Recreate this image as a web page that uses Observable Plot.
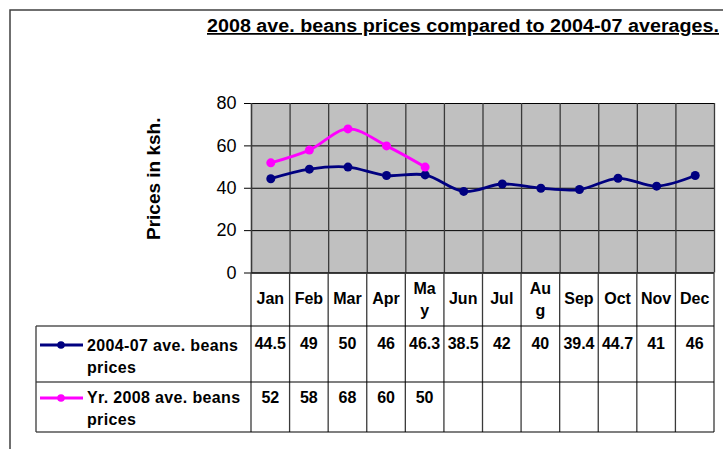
<!DOCTYPE html>
<html>
<head>
<meta charset="utf-8">
<script src="https://cdn.jsdelivr.net/npm/d3@7"></script>
<script src="https://cdn.jsdelivr.net/npm/@observablehq/plot@0.6"></script>
<style>
  html, body { margin: 0; padding: 0; background: #fff; }
  svg { display: block; }
</style>
</head>
<body>
<div id="chart"></div>
<script>
// ---- data ----
const months = ["Jan","Feb","Mar","Apr","May","Jun","Jul","Aug","Sep","Oct","Nov","Dec"];
const headerLabels = [["Jan"],["Feb"],["Mar"],["Apr"],["Ma","y"],["Jun"],["Jul"],["Au","g"],["Sep"],["Oct"],["Nov"],["Dec"]];
const avg0407 = [44.5, 49, 50, 46, 46.3, 38.5, 42, 40, 39.4, 44.7, 41, 46];
const yr2008 = [52, 58, 68, 60, 50];
const seriesNames = [["2004-07 ave. beans", "prices"], ["Yr. 2008 ave. beans", "prices"]];
const seriesColors = ["#000080", "#FF00FF"];
const yTicks = [0, 20, 40, 60, 80];
const titleText = "2008 ave. beans prices compared to 2004-07 averages.";
const yLabelText = "Prices in ksh.";

// ---- build tables ----
const rows1 = avg0407.map((v, i) => ({x: i + 0.5, y: v, month: months[i]}));
const rows2 = yr2008.map((v, i) => ({x: i + 0.5, y: v, month: months[i]}));
const boundaries = d3.range(months.length + 1);

const FONT = "'Liberation Sans', Arial, Helvetica, sans-serif";

const plot = Plot.plot({
  width: 723,
  height: 449,
  marginLeft: 251,
  marginRight: 9,
  marginTop: 103,
  marginBottom: 176.5,
  style: {fontFamily: FONT, fontSize: "18px", background: "white", overflow: "visible"},
  x: {domain: [0, months.length], axis: null},
  y: {domain: [0, 80], ticks: yTicks, tickSize: 7, tickPadding: 8, label: null, tickFormat: d => d},
  marks: [
    Plot.frame({fill: "#C0C0C0", stroke: null}),
    Plot.ruleY(yTicks.filter(d => d > 0), {stroke: "#000", strokeWidth: 1}),
    Plot.ruleX(boundaries.slice(1), {stroke: "#3a3a3a", strokeWidth: 1.3}),
    Plot.ruleX([0], {stroke: "#3a3a3a", strokeWidth: 1.6}),
    Plot.ruleY([0], {stroke: "#000", strokeWidth: 1.3}),
    Plot.line(rows1, {x: "x", y: "y", stroke: seriesColors[0], strokeWidth: 2.8, curve: "catmull-rom"}),
    Plot.dot(rows1, {x: "x", y: "y", fill: seriesColors[0], r: 4.5}),
    Plot.line(rows2, {x: "x", y: "y", stroke: seriesColors[1], strokeWidth: 2.8, curve: "catmull-rom"}),
    Plot.dot(rows2, {x: "x", y: "y", fill: seriesColors[1], r: 4.5})
  ]
});

document.getElementById("chart").appendChild(plot);

// ---- decorations & data table, positioned with the plot's own scales ----
const svg = d3.select(plot);
const xs = plot.scale("x");
const ys = plot.scale("y");
const X = v => xs.apply(v);
const yBottom = ys.apply(0);
const xRight = X(months.length);

// chart-area border
svg.append("path")
  .attr("d", `M10,449V10H723`)
  .attr("fill", "none").attr("stroke", "#404040").attr("stroke-width", 1.5);

// title
svg.append("text")
  .attr("x", 207).attr("y", 32)
  .attr("text-anchor", "start")
  .attr("font-family", FONT).attr("font-size", 17.5).attr("font-weight", "bold")
  .attr("textLength", 512).attr("lengthAdjust", "spacingAndGlyphs")
  .attr("text-decoration", "underline")
  .attr("fill", "#000")
  .text(titleText);

// y label
svg.append("text")
  .attr("transform", `translate(159.5,${(ys.apply(80) + yBottom) / 2 - 9}) rotate(-90)`)
  .attr("text-anchor", "middle")
  .attr("font-family", FONT).attr("font-size", 19).attr("font-weight", "bold")
  .attr("fill", "#000")
  .text(yLabelText);

// table geometry
const rowTop1 = 326, rowTop2 = 382, tableBottom = 432, legendLeft = 36;
const g = svg.append("g").attr("font-family", FONT).attr("font-size", 16).attr("font-weight", "bold").attr("fill", "#000");

// vertical column lines
boundaries.forEach(b => {
  g.append("line").attr("x1", X(b)).attr("x2", X(b)).attr("y1", yBottom).attr("y2", tableBottom)
    .attr("stroke", "#3a3a3a").attr("stroke-width", 1.3);
});
// horizontal lines
[rowTop1, rowTop2, tableBottom].forEach(yy => {
  g.append("line").attr("x1", legendLeft).attr("x2", xRight).attr("y1", yy).attr("y2", yy)
    .attr("stroke", "#000").attr("stroke-width", 1.2);
});
g.append("line").attr("x1", legendLeft).attr("x2", legendLeft).attr("y1", rowTop1).attr("y2", tableBottom)
  .attr("stroke", "#3a3a3a").attr("stroke-width", 1.3);

// header labels
headerLabels.forEach((lines, i) => {
  const cx = X(i + 0.5);
  const base = lines.length === 1 ? 303.5 : 294;
  lines.forEach((t, k) => {
    g.append("text").attr("x", cx).attr("y", base + k * 22).attr("text-anchor", "middle").text(t);
  });
});

// value rows
const seriesValues = [avg0407, yr2008];
const rowBaselines = [349, 403];
seriesValues.forEach((vals, s) => {
  vals.forEach((v, i) => {
    g.append("text").attr("x", X(i + 0.5)).attr("y", rowBaselines[s]).attr("text-anchor", "middle").text(String(v));
  });
});

// legend keys
const legendText = [[350.5, 372.5], [402.5, 424.5]];
const swatchY = [345, 398];
seriesNames.forEach((lines, s) => {
  g.append("line").attr("x1", 40).attr("x2", 83).attr("y1", swatchY[s]).attr("y2", swatchY[s])
    .attr("stroke", seriesColors[s]).attr("stroke-width", 2.8);
  g.append("circle").attr("cx", 61).attr("cy", swatchY[s]).attr("r", 3.8).attr("fill", seriesColors[s]);
  lines.forEach((t, k) => {
    g.append("text").attr("x", 87).attr("y", legendText[s][k]).attr("text-anchor", "start").attr("letter-spacing", 0.35).text(t);
  });
});
</script>
</body>
</html>
